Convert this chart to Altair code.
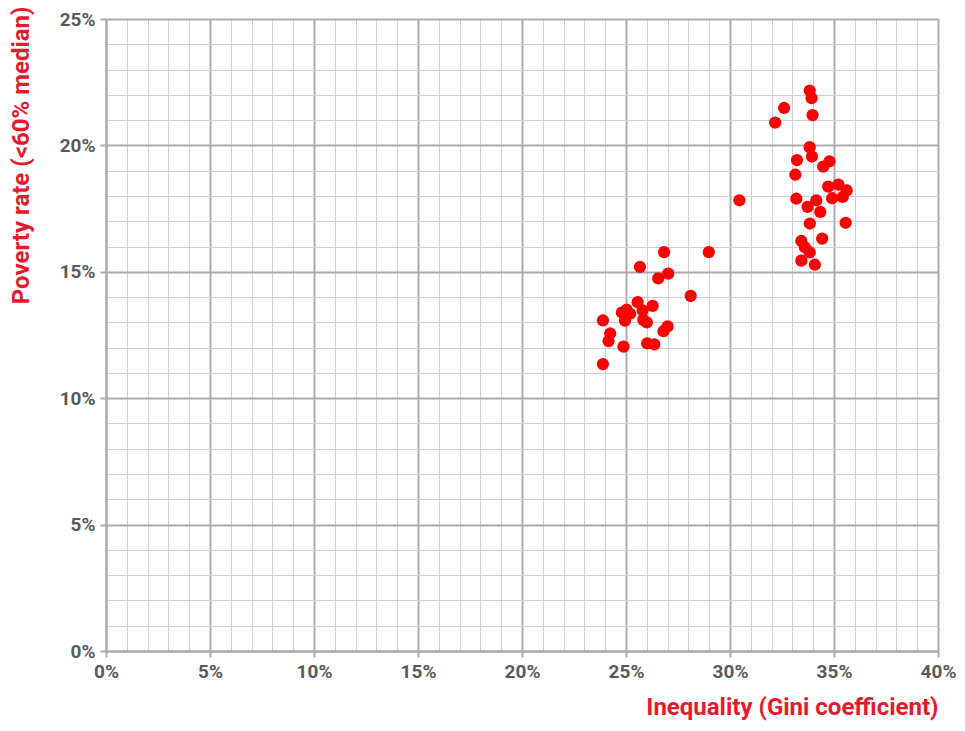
import altair as alt
import pandas as pd

# Inequality (Gini, %) and poverty rate (<60% median, %)
gini = [
    23.89, 23.89, 24.24, 24.16, 24.88, 24.80, 25.03, 25.20, 24.95, 25.56,
    25.80, 25.83, 26.00, 26.28, 26.02, 26.36, 25.67, 26.55, 26.80, 27.00,
    26.83, 27.03, 28.11, 28.98, 30.45,
    32.17, 32.60, 33.83, 33.92, 33.97, 33.83, 33.94, 33.22, 34.78, 34.48,
    33.14, 34.72, 35.21, 35.61, 35.42, 34.91, 33.19, 34.15, 33.73, 34.34,
    33.84, 35.56, 34.43, 33.43, 33.60, 33.83, 33.43, 34.08,
]
poverty = [
    11.35, 13.08, 12.56, 12.26, 12.04, 13.39, 13.50, 13.34, 13.07, 13.80,
    13.47, 13.10, 13.00, 13.65, 12.17, 12.13, 15.19, 14.74, 12.65, 12.84,
    15.78, 14.93, 14.05, 15.78, 17.83,
    20.90, 21.48, 22.17, 21.87, 21.20, 19.93, 19.56, 19.42, 19.37, 19.16,
    18.84, 18.37, 18.45, 18.22, 17.96, 17.91, 17.89, 17.83, 17.57, 17.37,
    16.91, 16.94, 16.31, 16.22, 15.97, 15.77, 15.44, 15.28,
]

x_ticks = list(range(0, 41))
y_ticks = list(range(0, 26))

df = pd.DataFrame({"gini": gini, "poverty": poverty})

RED = "#e8192c"
LABEL = "#5a5a5e"
MAJOR = "#ababaf"
MINOR = "#cfcfd2"

major_test = "round(datum.value) % 5 === 0"

def make_axis(values, title, **kw):
    return alt.Axis(
        values=values,
        title=title,
        labelExpr="round(datum.value) % 5 === 0 ? datum.value + '%' : ''",
        labelFont="Roboto",
        labelFontSize=19,
        labelFontWeight="bold",
        labelColor=LABEL,
        labelFlush=False,
        titleFont="Roboto",
        titleFontSize=24,
        titleFontWeight="bold",
        titleColor=RED,
        grid=True,
        gridColor={"condition": {"test": major_test, "value": MAJOR}, "value": MINOR},
        gridWidth={"condition": {"test": major_test, "value": 2}, "value": 1},
        tickColor=MAJOR,
        tickWidth=2,
        tickSize=6,
        tickOpacity={"condition": {"test": major_test, "value": 1}, "value": 0},
        domainColor=MAJOR,
        domainWidth=2,
        labelOverlap=False,
        **kw,
    )

chart = alt.Chart(df).mark_circle(size=150, opacity=1, color="#ff0000").encode(
    x=alt.X(
        "gini:Q",
        scale=alt.Scale(domain=[0, 40], nice=False, zero=True),
        axis=make_axis(x_ticks, "Inequality (Gini coefficient)",
                       titleAnchor="end", titlePadding=14, labelPadding=5),
    ),
    y=alt.Y(
        "poverty:Q",
        scale=alt.Scale(domain=[0, 25], nice=False, zero=True),
        axis=make_axis(y_ticks, "Poverty rate (<60% median)",
                       titleAnchor="end", titleX=-73, titleY=-13,
                       titleAlign="right", titleBaseline="bottom", labelPadding=5),
    ),
).properties(
    width=832,
    height=632,
    autosize=alt.AutoSizeParams(type="none"),
    padding={"left": 98, "top": 11, "right": 19, "bottom": 72},
).configure_view(stroke=None)

chart.save("out.html", embed_options={"renderer": "svg", "actions": False})
